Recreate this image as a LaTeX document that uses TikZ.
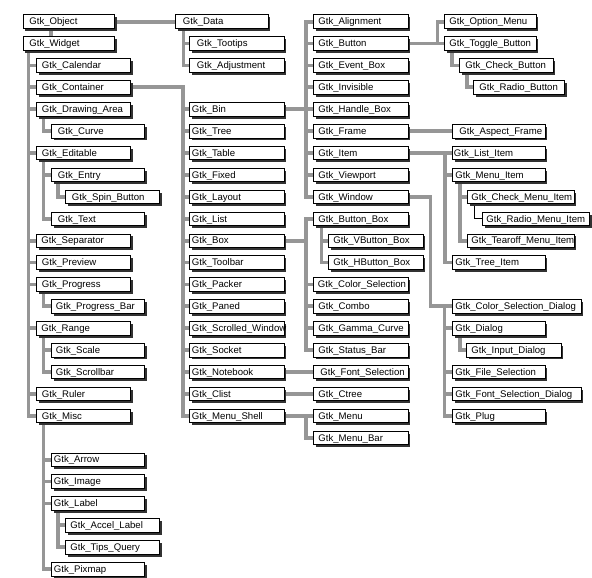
\documentclass[tikz,border=0pt]{standalone}
\usepackage{fontspec}
\setmainfont{Liberation Sans}
\usetikzlibrary{shadows}
\definecolor{connc}{RGB}{150,150,150}
\definecolor{shadc}{RGB}{50,50,50}
\pgfdeclarelayer{bg}
\pgfsetlayers{bg,main}
\hyphenpenalty=10000
\tikzset{
  gbox/.style={rectangle, draw=black, line width=0.8pt, fill=white, anchor=north west,
    inner xsep=0pt, inner ysep=0pt, minimum height=13.5pt, text height=8pt, text depth=1.5pt,
    align=left, font=\fontsize{9.6}{11}\selectfont,
    drop shadow={shadow xshift=2.5pt, shadow yshift=-2.5pt, fill=shadc, opacity=1}},
  conn/.style={draw=connc, line width=3.8pt},
  thinconn/.style={draw=black, line width=1pt}
}
\newcommand\gtknode[6]{\node[gbox, text width=#4pt, execute at begin node={\noindent\hspace*{#5pt}}] (#1) at (#2,{14.5+21.9*#3}) {#6};}
\begin{document}
\begin{tikzpicture}[x=1pt, y=-1pt]
\useasboundingbox (0,0) rectangle (592,578);
% column A
\gtknode{object}{22.5}{0}{91.5}{6.5}{Gtk\_Object}
\gtknode{widget}{22.5}{1}{91.5}{6.5}{Gtk\_Widget}
% column B
\gtknode{calendar}{36}{2}{94}{5.5}{Gtk\_Calendar}
\gtknode{container}{36}{3}{94}{5.5}{Gtk\_Container}
\gtknode{drawingarea}{36}{4}{94}{5.5}{Gtk\_Drawing\_Area}
\gtknode{editable}{36}{6}{94}{5.5}{Gtk\_Editable}
\gtknode{separator}{36}{10}{94}{5}{Gtk\_Separator}
\gtknode{preview}{36}{11}{94}{5.5}{Gtk\_Preview}
\gtknode{progress}{36}{12}{94}{5.5}{Gtk\_Progress}
\gtknode{range}{36}{14}{94}{5}{Gtk\_Range}
\gtknode{ruler}{36}{17}{94}{5.5}{Gtk\_Ruler}
\gtknode{misc}{36}{18}{94}{5.5}{Gtk\_Misc}
% column C
\gtknode{curve}{51}{5}{93}{6.5}{Gtk\_Curve}
\gtknode{entry}{51}{7}{93}{6.5}{Gtk\_Entry}
\gtknode{text}{51}{9}{93}{6.5}{Gtk\_Text}
\gtknode{progressbar}{51}{13}{93}{4.5}{Gtk\_Progress\_Bar}
\gtknode{scale}{51}{15}{93}{4.5}{Gtk\_Scale}
\gtknode{scrollbar}{51}{16}{93}{4.5}{Gtk\_Scrollbar}
\gtknode{arrow}{51}{20}{93}{2.5}{Gtk\_Arrow}
\gtknode{image}{51}{21}{93}{2.5}{Gtk\_Image}
\gtknode{label}{51}{22}{93}{2.5}{Gtk\_Label}
\gtknode{pixmap}{51}{25}{93}{2.5}{Gtk\_Pixmap}
% column D
\gtknode{spinbutton}{65}{8}{94}{6.5}{Gtk\_Spin\_Button}
\gtknode{accellabel}{65}{23}{94}{5}{Gtk\_Accel\_Label}
\gtknode{tipsquery}{65}{24}{94}{5}{Gtk\_Tips\_Query}
% data
\gtknode{data}{175}{0}{92.5}{7.5}{Gtk\_Data}
\gtknode{tooltips}{189}{1}{94.5}{7.5}{Gtk\_Tootips}
\gtknode{adjustment}{189}{2}{94.5}{7.5}{Gtk\_Adjustment}
% column E
\gtknode{bin}{189}{4}{94.5}{2.5}{Gtk\_Bin}
\gtknode{tree}{189}{5}{94.5}{2.5}{Gtk\_Tree}
\gtknode{table}{189}{6}{94.5}{2.5}{Gtk\_Table}
\gtknode{fixed}{189}{7}{94.5}{2.5}{Gtk\_Fixed}
\gtknode{layout}{189}{8}{94.5}{2.5}{Gtk\_Layout}
\gtknode{list}{189}{9}{94.5}{2.5}{Gtk\_List}
\gtknode{box}{189}{10}{94.5}{2.5}{Gtk\_Box}
\gtknode{toolbar}{189}{11}{94.5}{2.5}{Gtk\_Toolbar}
\gtknode{packer}{189}{12}{94.5}{2.5}{Gtk\_Packer}
\gtknode{paned}{189}{13}{94.5}{2.5}{Gtk\_Paned}
\gtknode{scrolledwindow}{189}{14}{94.5}{2.5}{Gtk\_Scrolled\_Window}
\gtknode{socket}{189}{15}{94.5}{2.5}{Gtk\_Socket}
\gtknode{notebook}{189}{16}{94.5}{2.5}{Gtk\_Notebook}
\gtknode{clist}{189}{17}{94.5}{2.5}{Gtk\_Clist}
\gtknode{menushell}{189}{18}{94.5}{2.5}{Gtk\_Menu\_Shell}
% column F
\gtknode{alignment}{313}{0}{94.5}{5}{Gtk\_Alignment}
\gtknode{button}{313}{1}{94.5}{5}{Gtk\_Button}
\gtknode{eventbox}{313}{2}{94.5}{5}{Gtk\_Event\_Box}
\gtknode{invisible}{313}{3}{94.5}{5}{Gtk\_Invisible}
\gtknode{handlebox}{313}{4}{94.5}{5}{Gtk\_Handle\_Box}
\gtknode{frame}{313}{5}{94.5}{5}{Gtk\_Frame}
\gtknode{item}{313}{6}{94.5}{5}{Gtk\_Item}
\gtknode{viewport}{313}{7}{94.5}{5}{Gtk\_Viewport}
\gtknode{window}{313}{8}{94.5}{5}{Gtk\_Window}
\gtknode{buttonbox}{313}{9}{94.5}{5}{Gtk\_Button\_Box}
\gtknode{vbuttonbox}{328}{10}{94.5}{5}{Gtk\_VButton\_Box}
\gtknode{hbuttonbox}{328}{11}{94.5}{5}{Gtk\_HButton\_Box}
\gtknode{colorselection}{313}{12}{94.5}{4.5}{Gtk\_Color\_Selection}
\gtknode{combo}{313}{13}{94.5}{5}{Gtk\_Combo}
\gtknode{gammacurve}{313}{14}{94.5}{5}{Gtk\_Gamma\_Curve}
\gtknode{statusbar}{313}{15}{94.5}{5}{Gtk\_Status\_Bar}
\gtknode{fontselection}{313}{16}{94.5}{7}{Gtk\_Font\_Selection}
\gtknode{ctree}{313}{17}{94.5}{5}{Gtk\_Ctree}
\gtknode{menu}{313}{18}{94.5}{5}{Gtk\_Menu}
\gtknode{menubar}{313}{19}{94.5}{5}{Gtk\_Menu\_Bar}
% column G
\gtknode{optionmenu}{444}{0}{91.5}{5}{Gtk\_Option\_Menu}
\gtknode{togglebutton}{444}{1}{91.5}{5}{Gtk\_Toggle\_Button}
\gtknode{checkbutton}{459}{2}{93.5}{6}{Gtk\_Check\_Button}
\gtknode{radiobutton}{473}{3}{91}{6}{Gtk\_Radio\_Button}
\gtknode{aspectframe}{452}{5}{92.5}{7}{Gtk\_Aspect\_Frame}
\gtknode{listitem}{452}{6}{92.5}{1.5}{Gtk\_List\_Item}
\gtknode{menuitem}{452}{7}{92.5}{3}{Gtk\_Menu\_Item}
\gtknode{checkmenuitem}{467}{8}{106.5}{4}{Gtk\_Check\_Menu\_Item}
\gtknode{radiomenuitem}{482}{9}{107}{4}{Gtk\_Radio\_Menu\_Item}
\gtknode{tearoffmenuitem}{467}{10}{106.5}{4}{Gtk\_Tearoff\_Menu\_Item}
\gtknode{treeitem}{452}{11}{92.5}{3}{Gtk\_Tree\_Item}
\gtknode{colorseldialog}{452}{13}{128.5}{3}{Gtk\_Color\_Selection\_Dialog}
\gtknode{dialog}{452}{14}{92.5}{3}{Gtk\_Dialog}
\gtknode{inputdialog}{466}{15}{94.5}{5}{Gtk\_Input\_Dialog}
\gtknode{fileselection}{452}{16}{92.5}{3}{Gtk\_File\_Selection}
\gtknode{fontseldialog}{452}{17}{128.5}{3}{Gtk\_Font\_Selection\_Dialog}
\gtknode{plug}{452}{18}{92.5}{3}{Gtk\_Plug}
% connectors
\begin{pgfonlayer}{bg}
\draw[conn] ([xshift=28.5pt]object.south west) -- ([xshift=28.5pt]widget.north west);
\draw[conn] (object.east) -- (data.west);
\foreach \ch in {tooltips,adjustment} \draw[conn] ([xshift=8.5pt]data.south west) |- (\ch.west);
\foreach \ch in {calendar,container,drawingarea,editable,separator,preview,progress,range,ruler,misc} \draw[conn] ([xshift=6pt]widget.south west) |- (\ch.west);
\draw[conn] ([xshift=7.5pt]drawingarea.south west) |- (curve.west);
\foreach \ch in {entry,text} \draw[conn] ([xshift=7.5pt]editable.south west) |- (\ch.west);
\draw[conn] ([xshift=7.3pt]entry.south west) |- (spinbutton.west);
\draw[conn] ([xshift=7.5pt]progress.south west) |- (progressbar.west);
\foreach \ch in {scale,scrollbar} \draw[conn] ([xshift=7.5pt]range.south west) |- (\ch.west);
\foreach \ch in {arrow,image,label,pixmap} \draw[conn] ([xshift=7.5pt]misc.south west) |- (\ch.west);
\foreach \ch in {accellabel,tipsquery} \draw[conn] ([xshift=7.3pt]label.south west) |- (\ch.west);
\foreach \ch in {bin,tree,table,fixed,layout,list,box,toolbar,packer,paned,scrolledwindow,socket,notebook,clist,menushell} \draw[conn] (container.east) -| ([xshift=-6pt]\ch.west) -- (\ch.west);
\foreach \ch in {alignment,button,eventbox,invisible,handlebox,frame,item,viewport,window} \draw[conn] (bin.east) -| ([xshift=-7pt]\ch.west) -- (\ch.west);
\foreach \ch in {buttonbox,colorselection,combo,gammacurve,statusbar} \draw[conn] (box.east) -| ([xshift=-7pt]\ch.west) -- (\ch.west);
\foreach \ch in {vbuttonbox,hbuttonbox} \draw[conn] ([xshift=8.5pt]buttonbox.south west) |- (\ch.west);
\draw[conn] (notebook.east) -- (fontselection.west);
\draw[conn] (clist.east) -- (ctree.west);
\foreach \ch in {menu,menubar} \draw[conn] (menushell.east) -| ([xshift=-7pt]\ch.west) -- (\ch.west);
\foreach \ch in {optionmenu,togglebutton} \draw[conn] (button.east) -| ([xshift=-6.5pt]\ch.west) -- (\ch.west);
\draw[conn] ([xshift=8pt]togglebutton.south west) |- (checkbutton.west);
\draw[conn] ([xshift=8pt]checkbutton.south west) |- (radiobutton.west);
\draw[conn] (frame.east) -- (aspectframe.west);
\foreach \ch in {listitem,menuitem,treeitem} \draw[conn] (item.east) -| ([xshift=-7pt]\ch.west) -- (\ch.west);
\foreach \ch in {checkmenuitem,tearoffmenuitem} \draw[conn] ([xshift=8pt]menuitem.south west) |- (\ch.west);
\draw[thinconn] ([xshift=7.3pt]checkmenuitem.south west) |- (radiomenuitem.west);
\draw[conn] (window.east) -| ([xshift=-21.5pt]colorseldialog.west) -- (colorseldialog.west);
\foreach \ch in {dialog,fileselection,fontseldialog,plug} \draw[conn] ([xshift=-7.5pt]colorseldialog.west) |- (\ch.west);
\draw[conn] ([xshift=8pt]dialog.south west) |- (inputdialog.west);
\end{pgfonlayer}
\end{tikzpicture}
\end{document}
